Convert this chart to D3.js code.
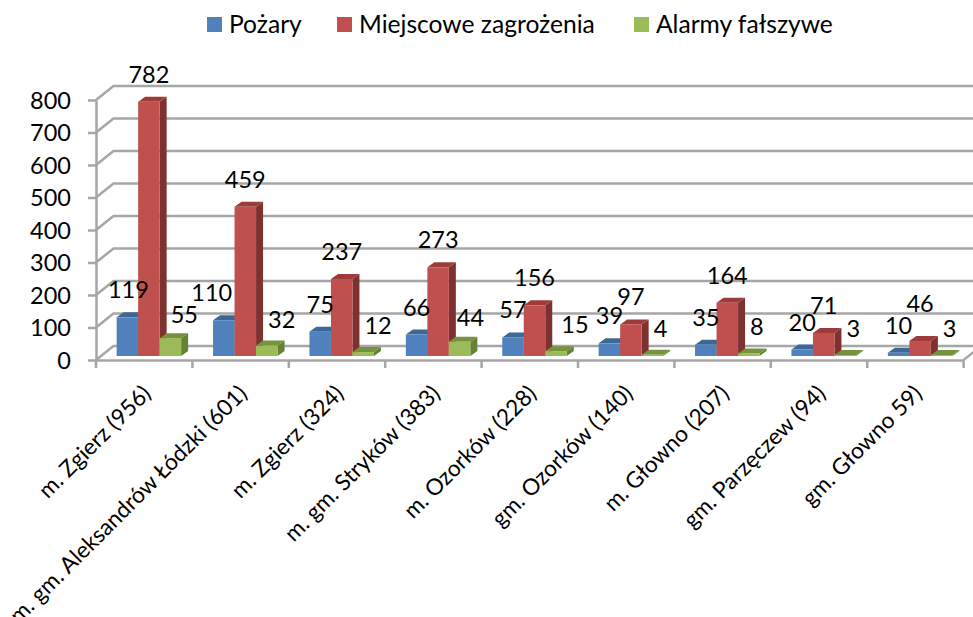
<!DOCTYPE html>
<html>
<head>
<meta charset="utf-8">
<script src="https://cdn.jsdelivr.net/npm/d3@7"></script>
<style>
  html, body { margin: 0; padding: 0; background: #fff; overflow: hidden; }
  text { font-family: Lato, sans-serif; fill: #000; }
</style>
</head>
<body>
<div id="chart"></div>
<script>
const width = 973, height = 617;

const categories = ["m. Zgierz (956)", "m. gm. Aleksandrów Łódzki (601)", "m. Zgierz (324)", "m. gm. Stryków (383)",
  "m. Ozorków (228)", "gm. Ozorków (140)", "m. Głowno (207)", "gm. Parzęczew (94)", "gm. Głowno 59)"];
const seriesNames = ["Pożary", "Miejscowe zagrożenia", "Alarmy fałszywe"];
const pozary = [119, 110, 75, 66, 57, 39, 35, 20, 10];
const miejscowe = [782, 459, 237, 273, 156, 97, 164, 71, 46];
const alarmy = [55, 32, 12, 44, 15, 4, 8, 3, 3];
const yTicks = [0, 100, 200, 300, 400, 500, 600, 700, 800];

const seriesValues = [pozary, miejscowe, alarmy];
const front = ["#4F81BD", "#C0504D", "#9BBB59"];
const top_ = ["#3D6796", "#9E3B39", "#76923C"];
const side = ["#3A5F8C", "#7D3230", "#668036"];

const wall = {dx: 17.5, dy: -14};   // back wall offset of the fake 3d box
const bar = {dx: 7, dy: -5, shift: 4.7, lift: -4}; // bar depth and where it stands on the floor
const gridColor = "#A6A6A6";

const x0 = d3.scaleBand().domain(categories).range([96, 963.6]);
const x1 = d3.scaleBand().domain(seriesNames).range([0, 64.5]);
const y = d3.scaleLinear().domain([0, 800]).range([360, 100]);
const slotPad = (x0.bandwidth() - 64.5) / 2;

const svg = d3.select("#chart").append("svg")
  .attr("width", width).attr("height", height)
  .style("display", "block");

// walls and floor
const wallG = svg.append("g").attr("fill", "none").attr("stroke", gridColor).attr("stroke-width", 2.5);
yTicks.forEach(t => {
  wallG.append("path").attr("d", d3.line()([
    [x0.range()[0], y(t)],
    [x0.range()[0] + wall.dx, y(t) + wall.dy],
    [width, y(t) + wall.dy]
  ]));
});
wallG.append("path").attr("d", d3.line()([
  [x0.range()[1], y(0)],
  [x0.range()[1] + wall.dx, y(0) + wall.dy]
]));

// axes
const xAxis = d3.axisBottom(x0).tickSizeOuter(0).tickSize(0);
const yAxis = d3.axisLeft(y).tickValues(yTicks).tickSize(8).tickPadding(17).tickSizeOuter(0);

const gy = svg.append("g").attr("transform", "translate(96,0)").call(yAxis);
gy.selectAll("text").style("font-size", "23.5px").attr("dy", "0.36em");
gy.selectAll("line").attr("stroke", gridColor).attr("stroke-width", 2.5);
gy.select(".domain").attr("stroke", gridColor).attr("stroke-width", 2.5);

const gx = svg.append("g").attr("transform", "translate(0,360)").call(xAxis);
gx.select(".domain").attr("stroke", gridColor).attr("stroke-width", 2.5);
gx.selectAll(".tick line").remove();
gx.selectAll(".tick text")
  .attr("text-anchor", "end")
  .attr("y", 0).attr("dy", 0)
  .attr("transform", "translate(8,35) rotate(-45)")
  .style("font-size", "22.6px");

// tick marks sit on the slot edges, not the centers
gx.selectAll(".edge").data(d3.range(categories.length + 1)).enter().append("line")
  .attr("class", "edge")
  .attr("x1", i => x0.range()[0] + i * x0.step())
  .attr("x2", i => x0.range()[0] + i * x0.step())
  .attr("y1", 0).attr("y2", 8)
  .attr("stroke", gridColor).attr("stroke-width", 2.5);

// bars
const groups = svg.selectAll(".group").data(categories).enter().append("g")
  .attr("class", "group")
  .attr("transform", d => `translate(${x0(d) + slotPad + bar.shift},${bar.lift})`);

groups.each(function(cat, c) {
  const g = d3.select(this);
  seriesNames.forEach((name, s) => {
    const v = seriesValues[s][c];
    const xl = x1(name), xr = xl + x1.bandwidth();
    const yt = y(v), yb = y(0);
    g.append("path").attr("fill", side[s]).attr("d", d3.line()([
      [xr, yt], [xr + bar.dx, yt + bar.dy], [xr + bar.dx, yb + bar.dy], [xr, yb]
    ]) + "Z");
    g.append("path").attr("fill", top_[s]).attr("d", d3.line()([
      [xl, yt], [xl + bar.dx, yt + bar.dy], [xr + bar.dx, yt + bar.dy], [xr, yt]
    ]) + "Z");
    g.append("rect").attr("fill", front[s])
      .attr("x", xl).attr("y", yt)
      .attr("width", x1.bandwidth()).attr("height", yb - yt);
  });
});

// data labels, drawn last so they lie over the bars
const labelNudge = {"0,0": [1, 0], "0,1": [-12, 0], "1,8": [0, -10], "2,0": [-1, 3], "2,3": [-4, 2], "2,4": [4, 0]};
seriesNames.forEach((name, s) => {
  seriesValues[s].forEach((v, c) => {
    const nudge = labelNudge[s + "," + c] || [0, 0];
    const base = x0(categories[c]) + slotPad + bar.shift + x1(name);
    const lx = s === 2 ? base + 12 : base + x1.bandwidth() / 2;
    const ly = y(v) + bar.lift + (s === 2 ? -18 : -19);
    svg.append("text")
      .attr("x", lx + nudge[0]).attr("y", ly + nudge[1])
      .attr("text-anchor", s === 2 ? "start" : "middle")
      .style("font-size", "23.5px")
      .text(v);
  });
});

// legend
const legendX = d3.scaleOrdinal().domain(seriesNames).range([207, 337, 634]);
const legend = svg.selectAll(".legend").data(seriesNames).enter().append("g")
  .attr("class", "legend")
  .attr("transform", d => `translate(${legendX(d)},0)`);
legend.append("rect").attr("x", 0).attr("y", 17).attr("width", 15).attr("height", 15)
  .attr("fill", (d, i) => front[i]);
legend.append("text").attr("x", 22).attr("y", 33)
  .style("font-size", "24.6px")
  .text(d => d);
</script>
</body>
</html>
